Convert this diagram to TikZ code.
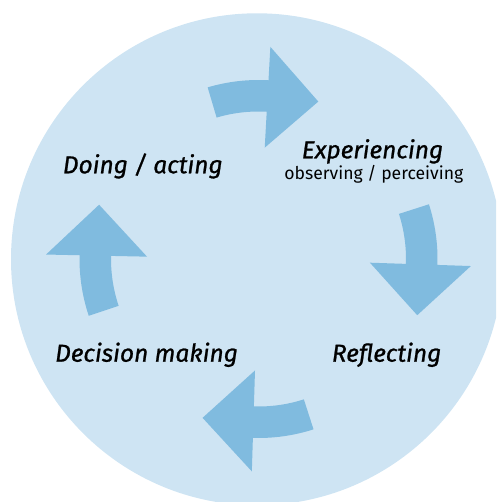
\documentclass[tikz,border=0pt]{standalone}
\usepackage{fontspec}
\setmainfont{Fira Sans}
\definecolor{circlefill}{HTML}{CEE4F3}
\definecolor{arrowfill}{HTML}{80BBDF}
\begin{document}
\begin{tikzpicture}[x=1pt,y=1pt,
  stagelabel/.style={anchor=base west,inner sep=0pt,font=\fontsize{24.5}{28}\selectfont\itshape\addfontfeatures{FakeBold=0.9}},
  sublabel/.style={anchor=base,inner sep=0pt,font=\fontsize{17.6}{20}\selectfont},
  cyclearrow/.style={fill=arrowfill}]
\useasboundingbox (0,0) rectangle (496,502);
\begin{scope}
\clip (0,0) rectangle (496,502);
\fill[circlefill] (257,242.7) circle[radius=246pt];
\end{scope}
\begin{scope}[shift={(258.5,243)}]
\foreach \b in {86.8,-1.9,-91.8,178.8}{
  \fill[cyclearrow] (\b+19.7:179pt) arc[start angle=\b+19.7, end angle=\b, radius=179pt]
    -- (\b:212.5pt) -- (\b-17.6:168.4pt) -- (\b:111.5pt) -- (\b:147.5pt)
    arc[start angle=\b, end angle=\b+19.7, radius=147.5pt] -- cycle;
}
\end{scope}
\node[stagelabel] (doing) at (62.7,328.7) {Doing / acting};
\node[stagelabel,anchor=base] (exp) at (372.5,343.7) {Experiencing};
\node[sublabel] (obs) at (373.8,322) {observing / perceiving};
\node[stagelabel] (dec) at (55,140.3) {Decision making};
\node[stagelabel] (refl) at (331.7,140.3) {Reflecting};
\end{tikzpicture}
\end{document}
